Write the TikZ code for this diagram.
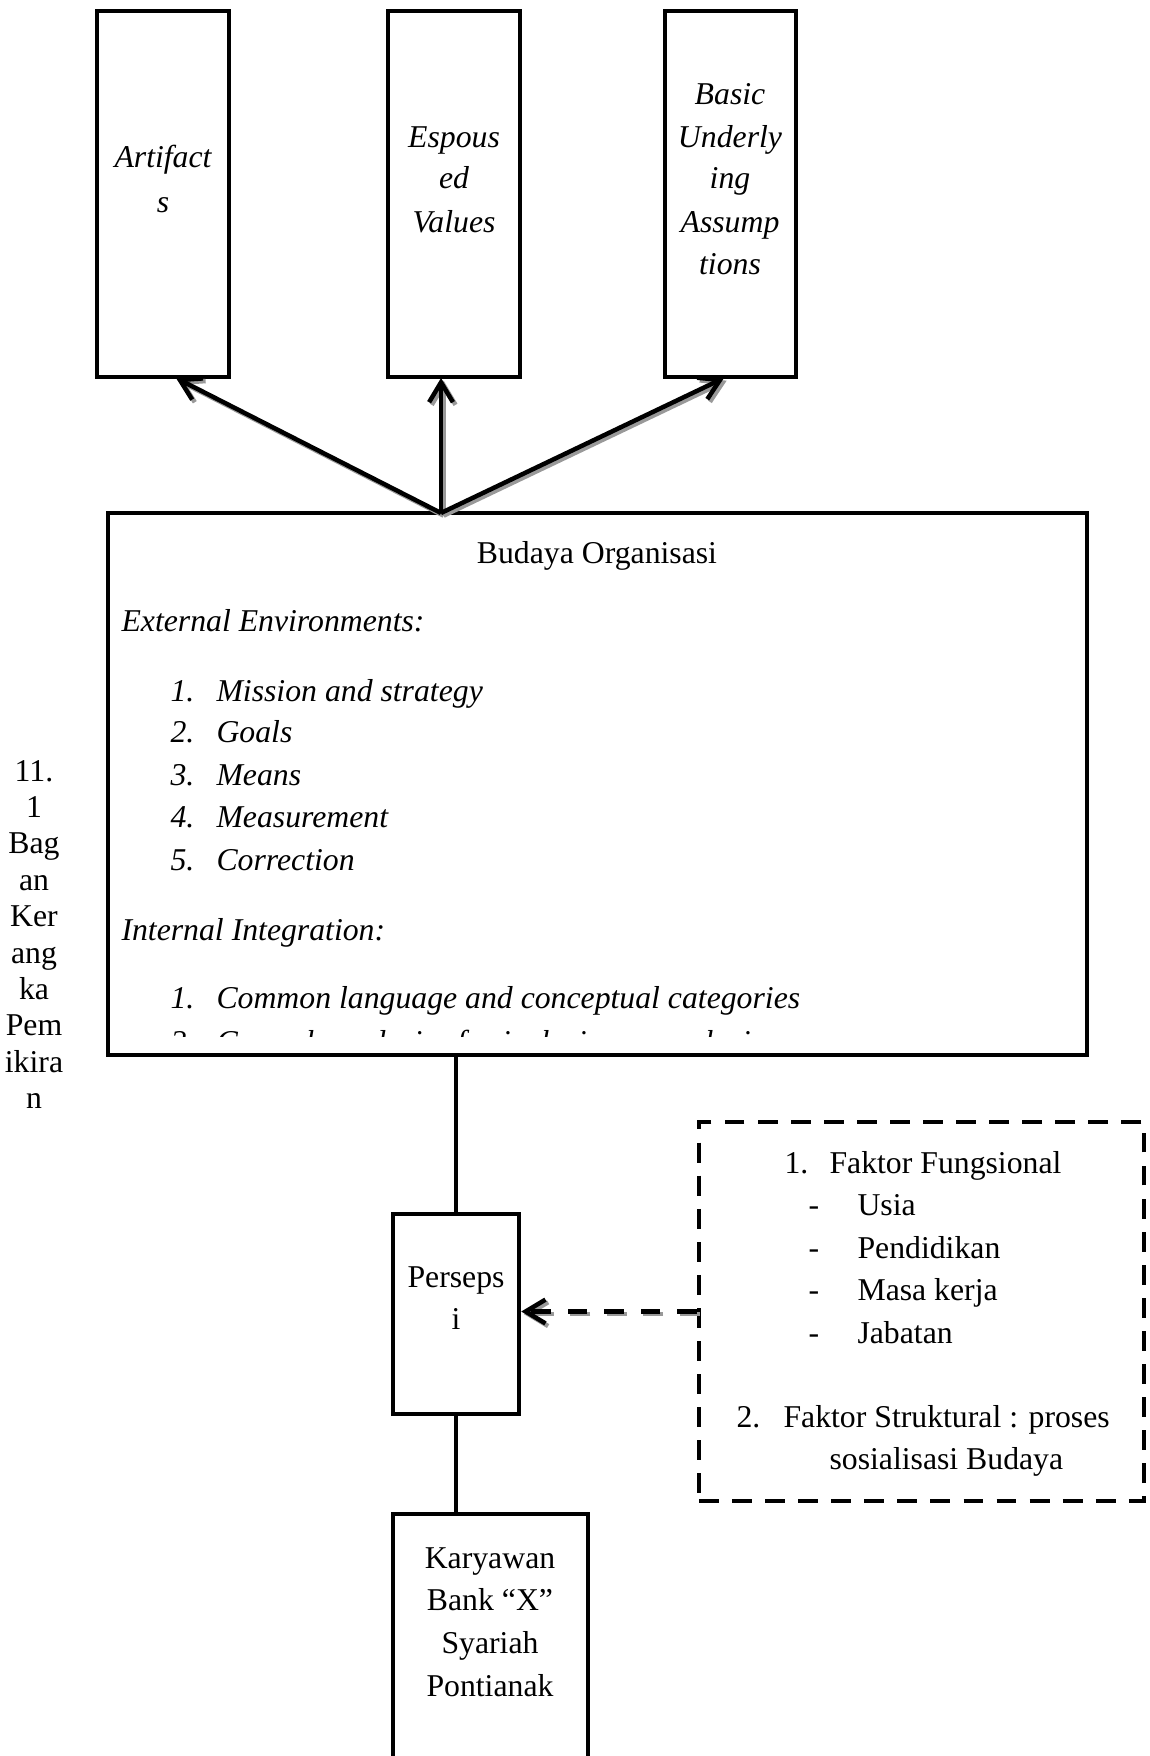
\documentclass[tikz,border=0pt]{standalone}
\usepackage{fontspec}
\setmainfont{Liberation Serif}
\usetikzlibrary{arrows.meta,fit}
\definecolor{shadowgray}{gray}{0.6}
\begin{document}
\begin{tikzpicture}[x=0.378pt,y=-0.378pt,
  box/.style={draw=black,line width=1.7pt,inner sep=0pt},
  dbox/.style={draw=black,line width=1.6pt,inner sep=0pt,dash pattern=on 7.5pt off 5pt},
  txt/.style={inner sep=0pt,font=\fontsize{12}{14}\selectfont,text height=9.7pt,text depth=1.5pt},
  itxt/.style={txt,font=\fontsize{12}{14}\selectfont\itshape},
  lbl/.style={inner sep=0pt,font=\fontsize{12}{14}\selectfont,anchor=base},
  conn/.style={draw=black,line width=1.8pt},
  arr/.style={line width=1.7pt,-{Straight Barb[length=7.5pt,width=9pt,line width=1.7pt]}},
  arrsh/.style={arr,draw=shadowgray,transform canvas={xshift=1pt,yshift=-1pt}},
  darr/.style={arr,dash pattern=on 7.5pt off 6.3pt},
  darrsh/.style={darr,draw=shadowgray,transform canvas={xshift=1pt,yshift=-1pt}}
]
\useasboundingbox (0,0) rectangle (1149,1756);
\clip (0,0) rectangle (1149,1756);

% boxes
\node[box, fit={(97,11)(229,377)}] (art) {};
\node[box, fit={(388,11)(520,377)}] (esp) {};
\node[box, fit={(665,11)(796,377)}] (bas) {};
\node[box, fit={(108,513)(1087,1055)}] (bo) {};
\node[box, fit={(393,1214)(519,1414)}] (per) {};
\node[box, fit={(393,1514)(588,1800)}] (kar) {};
\node[dbox, fit={(699,1122)(1144,1501)}] (fak) {};

% top box texts
\node[itxt] (t1a) at (163,157) {Artifact};
\node[itxt] (t1b) at (163,202) {s};
\node[itxt] (t2a) at (454,137) {Espous};
\node[itxt] (t2b) at (454,178) {ed};
\node[itxt] (t2c) at (454,222) {Values};
\node[itxt] (t3a) at (730,94) {Basic};
\node[itxt] (t3b) at (730,137) {Underly};
\node[itxt] (t3c) at (730,178) {ing};
\node[itxt] (t3d) at (730,222) {Assump};
\node[itxt] (t3e) at (730,264) {tions};

% main box texts
\node[txt] (bt) at (597,553) {Budaya Organisasi};
\node[itxt,anchor=west] (ext) at (121,621) {External Environments:};
\node[itxt,anchor=west] (n1) at (170,691) {1.};
\node[itxt,anchor=west] (e1) at (216,691) {Mission and strategy};
\node[itxt,anchor=west] (n2) at (170,732) {2.};
\node[itxt,anchor=west] (e2) at (216,732) {Goals};
\node[itxt,anchor=west] (n3) at (170,775) {3.};
\node[itxt,anchor=west] (e3) at (216,775) {Means};
\node[itxt,anchor=west] (n4) at (170,817) {4.};
\node[itxt,anchor=west] (e4) at (216,817) {Measurement};
\node[itxt,anchor=west] (n5) at (170,860) {5.};
\node[itxt,anchor=west] (e5) at (216,860) {Correction};
\node[itxt,anchor=west] (int) at (121,930) {Internal Integration:};
\node[itxt,anchor=west] (m1) at (170,998) {1.};
\node[itxt,anchor=west] (i1) at (216,998) {Common language and conceptual categories};
\begin{scope}
  \clip (112,1015) rectangle (1083,1036);
  \node[itxt,anchor=west] (m2) at (170,1042) {2.};
  \node[itxt,anchor=west] (i2) at (216,1042) {Group boundaries for inclusion or exclusion};
\end{scope}

% persepsi and karyawan
\node[txt] (p1) at (456,1277) {Perseps};
\node[txt] (p2) at (456,1319) {i};
\node[txt] (k1) at (490,1558) {Karyawan};
\node[txt] (k2) at (490,1600) {Bank “X”};
\node[txt] (k3) at (490,1643) {Syariah};
\node[txt] (k4) at (490,1686) {Pontianak};

% factor box texts
\node[txt,anchor=west] (f1n) at (784,1163) {1.};
\node[txt,anchor=west] (f1) at (829,1163) {Faktor Fungsional};
\node[txt] (d1) at (814,1205) {-};
\node[txt,anchor=west] (u1) at (857,1205) {Usia};
\node[txt] (d2) at (814,1248) {-};
\node[txt,anchor=west] (u2) at (857,1248) {Pendidikan};
\node[txt] (d3) at (814,1290) {-};
\node[txt,anchor=west] (u3) at (857,1290) {Masa kerja};
\node[txt] (d4) at (814,1333) {-};
\node[txt,anchor=west] (u4) at (857,1333) {Jabatan};
\node[txt,anchor=west] (f2n) at (736,1417) {2.};
\node[txt,anchor=west] (f2) at (783,1417) {Faktor Struktural : proses};
\node[txt,anchor=west] (f2b) at (829,1459) {sosialisasi Budaya};

% left caption
\node[lbl] (c1) at (34,781) {11.};
\node[lbl] (c2) at (34,817.4) {1};
\node[lbl] (c3) at (34,853.8) {Bag};
\node[lbl] (c4) at (34,890.2) {an};
\node[lbl] (c5) at (34,926.6) {Ker};
\node[lbl] (c6) at (34,963) {ang};
\node[lbl] (c7) at (34,999.4) {ka};
\node[lbl] (c8) at (34,1035.8) {Pem};
\node[lbl] (c9) at (34,1072.2) {ikira};
\node[lbl] (c10) at (34,1108.6) {n};

% arrows to the three levels
\coordinate (src) at (441,513);
\coordinate (artB) at (176,378);
\coordinate (espB) at (441,378);
\coordinate (basB) at (724,378);
\draw[arrsh] (src) -- (artB);
\draw[arrsh] (src) -- (espB);
\draw[arrsh] (src) -- (basB);
\draw[arr] (src) -- (artB);
\draw[arr] (src) -- (espB);
\draw[arr] (src) -- (basB);

% vertical connectors
\draw[conn] (per.north |- bo.south) -- (per.north);
\draw[conn] (per.south) -- (per.south |- kar.north);

% dashed arrow
\draw[darrsh] (fak.west) -- (per.east |- fak.west);
\draw[darr] (fak.west) -- (per.east |- fak.west);
\end{tikzpicture}
\end{document}
